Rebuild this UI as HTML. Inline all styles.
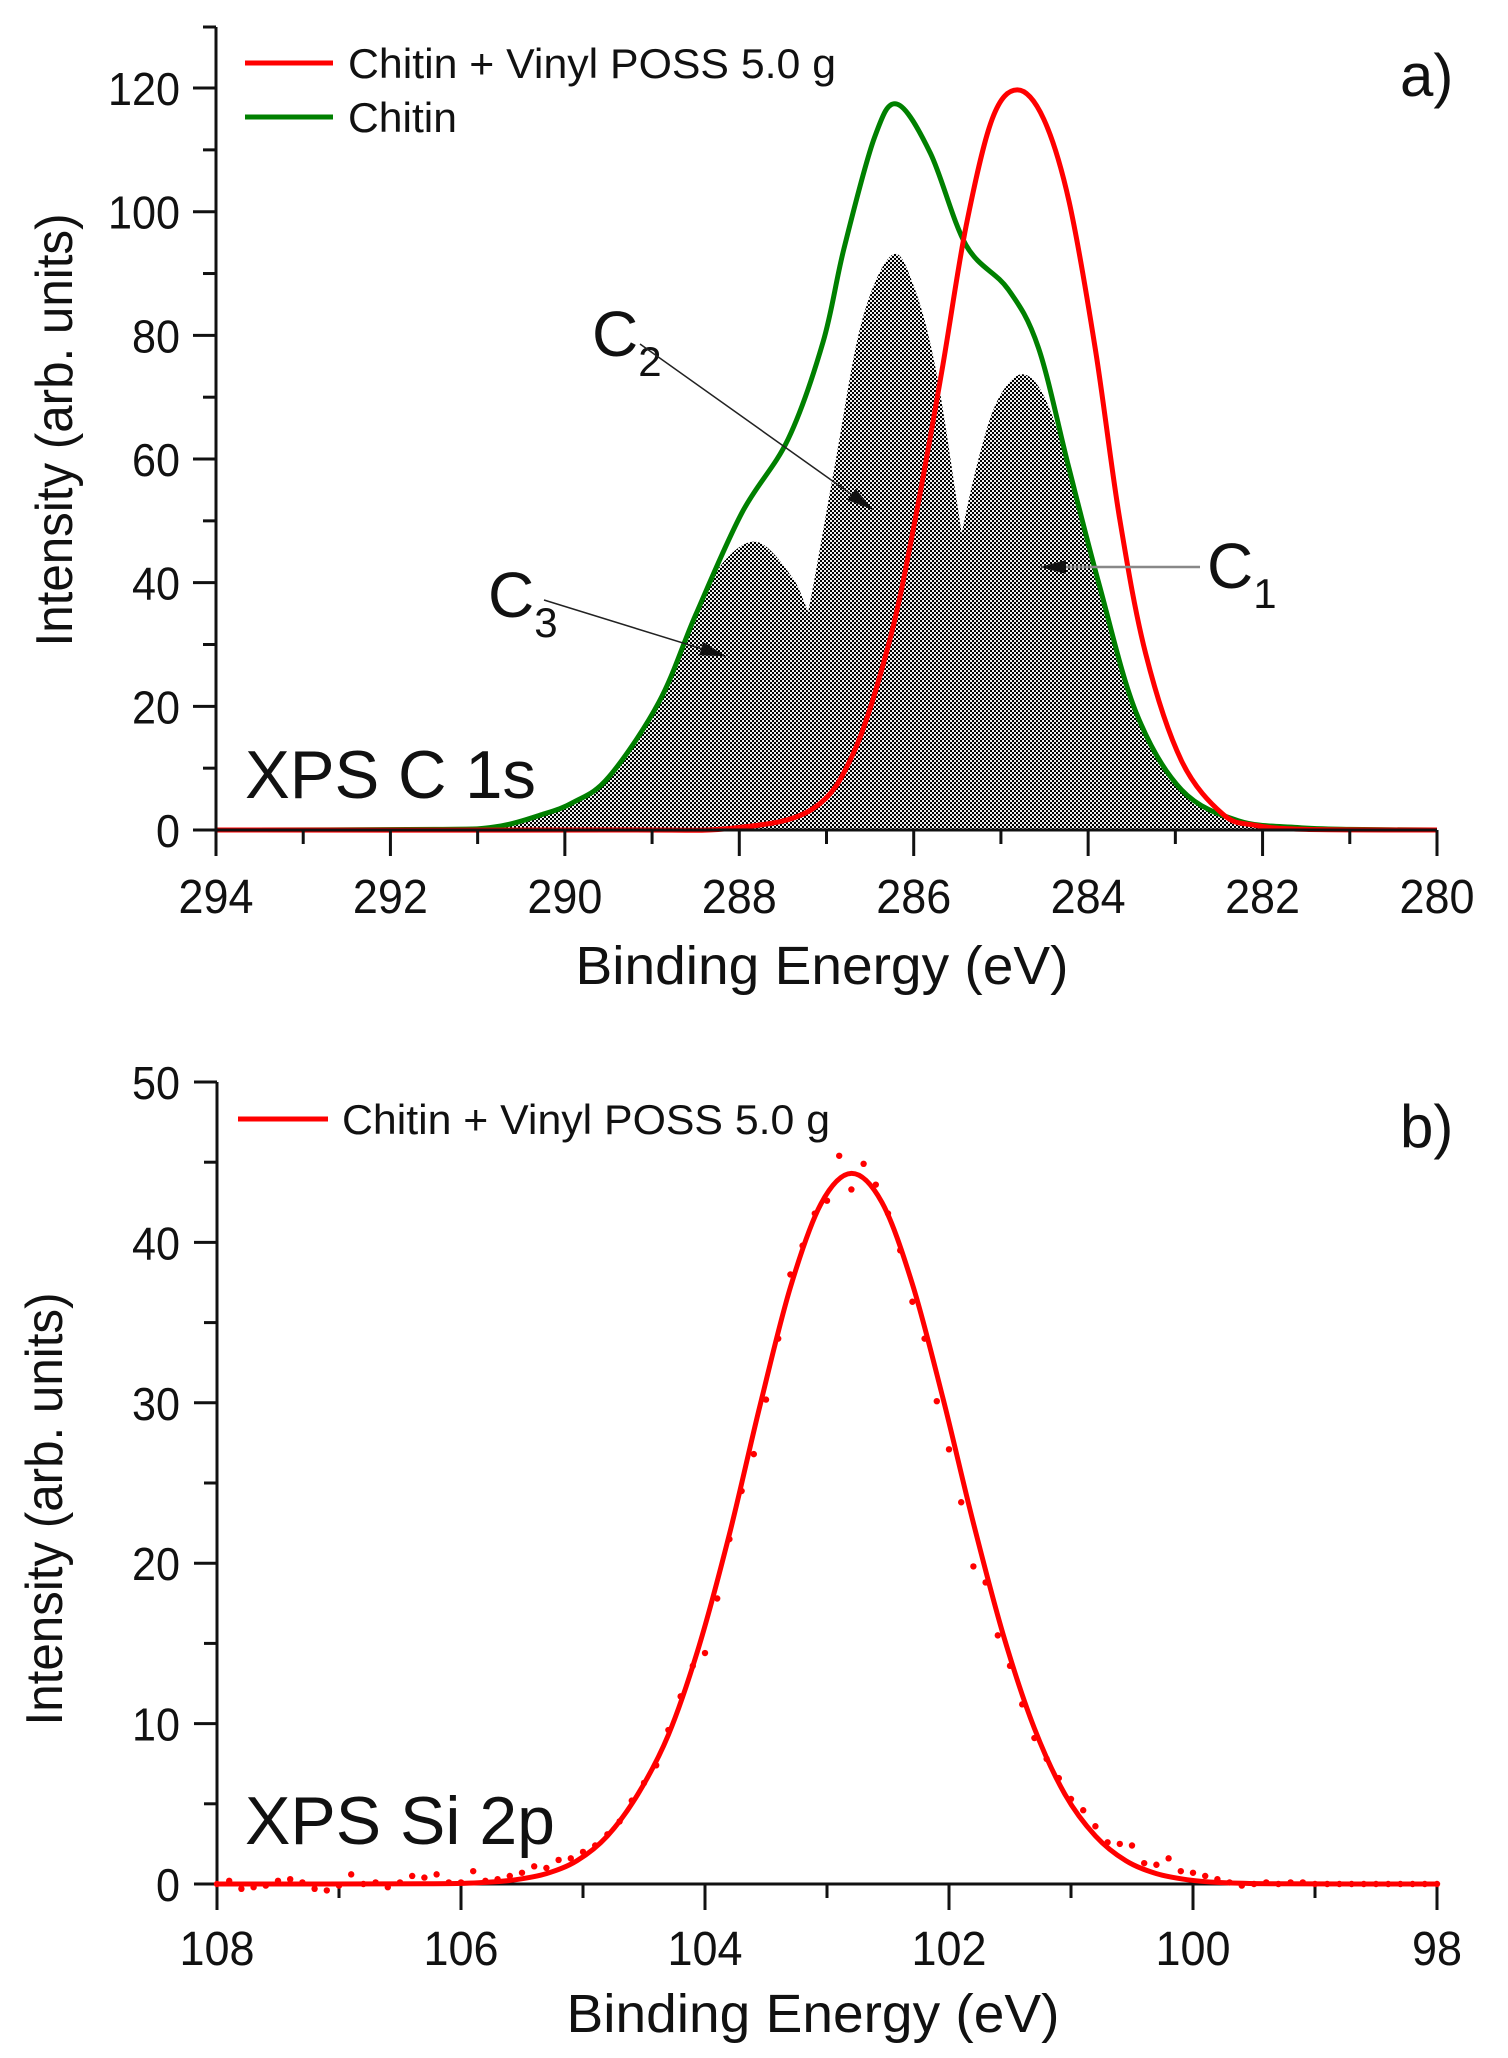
<!DOCTYPE html>
<html><head><meta charset="utf-8"><style>
html,body{margin:0;padding:0;background:#fff;}
body{position:relative;width:1508px;height:2058px;overflow:hidden;}
svg{display:block;}
text{font-family:"Liberation Sans",sans-serif;fill:#111;}
</style></head><body>
<svg id="fig" width="1508" height="2058" viewBox="0 0 1508 2058" xmlns="http://www.w3.org/2000/svg">
<defs>
<pattern id="checker" width="4" height="4" patternUnits="userSpaceOnUse">
<rect width="4" height="4" fill="#eee"/>
<rect width="2" height="2" fill="#000"/><rect x="2" y="2" width="2" height="2" fill="#000"/>
</pattern>
</defs>
<g id="panelA"></g>
<g id="panelB"></g>
</svg>
<script>
// ---------- Panel a data (C 1s) ----------
const aGreenX = [294,291.5,290.8,290.26,289.9,289.5,288.92,288.5,287.97,287.44,287.04,286.8,286.45,286.19,285.81,285.4,284.92,284.57,284.22,283.87,283.45,282.93,282.28,281.6,281,280];
const aGreenY = [0,0.1,0.5,2.5,4.5,8.5,20.7,34.8,51.3,63.2,78.9,94,112,117.4,109.5,94.6,87.5,78,58.5,39.5,19,6.5,1.5,0.4,0.1,0];
const aRedX = [294,289.5,288.07,287.16,286.68,286.27,285.98,285.68,285.4,285.1,284.81,284.51,284.22,283.92,283.64,283.34,282.93,282.46,282.1,281.5,280];
const aRedY = [0,0,0.3,3.4,12.8,31,50.5,74,97.6,115,119.7,115,101.7,78,50.5,28.5,11.2,2.6,0.8,0.1,0];
const c3X = [290.8,290.26,289.9,289.5,289.2,288.92,288.5,288.2,287.8,287.4,287.2,286.8,286.4,286.0,285.6];
const c3Y = [0.3,2.5,4.5,8.5,14,20.7,34.8,43,46.6,41,35,22,10,3,0.5];
const c2X = [288.3,288.0,287.7,287.4,287.2,286.91,286.6,286.25,286.0,285.74,285.45,285.2,285.0,284.7,284.4];
const c2Y = [0.5,3,10,24,36,58.5,82,93,88,74,48,25,12,3,0.5];
const c1X = [287.0,286.6,286.2,285.8,285.45,285.2,285.0,284.75,284.5,284.22,283.87,283.45,282.93,282.5,282.0,281.5];
const c1Y = [0.3,1,6,22,48,63,70.5,73.7,70,58.5,39.5,19,6.5,2.5,0.5,0];
const aXTicks = [294,292,290,288,286,284,282,280];
const aYTicks = [0,20,40,60,80,100,120];

// ---------- Panel b data (Si 2p) ----------
const bFitX = [108,106.3,105.8,105.55,105.3,105.05,104.8,104.55,104.3,104.05,103.8,103.55,103.3,103.05,102.8,102.55,102.3,102.05,101.8,101.55,101.3,101.05,100.8,100.55,100.3,100.05,99.8,99.3,98];
const bFitY = [0,0.01,0.1,0.27,0.65,1.45,3.0,5.6,9.3,14.8,21.8,29.8,37.2,42.4,44.3,42.5,37.4,30.3,22.5,15.4,9.7,5.6,3.0,1.45,0.65,0.27,0.1,0.01,0];
const bDataY = [0,0.2,-0.3,-0.2,-0.1,0.2,0.3,0.1,-0.3,-0.4,-0.1,0.6,0,0.1,-0.2,0.1,0.5,0.4,0.6,0.1,0.1,0.8,0.2,0.3,0.5,0.7,1.1,1.0,1.5,1.6,2.0,2.4,3.1,3.9,5.2,6.3,7.4,9.6,11.7,13.6,14.4,17.8,21.5,24.5,26.8,30.2,34.0,38.0,39.8,41.8,42.6,45.4,43.3,44.9,43.6,41.8,39.5,36.3,34.0,30.1,27.1,23.8,19.8,18.8,15.5,13.6,11.2,9.1,7.8,6.6,5.3,4.6,3.6,2.6,2.5,2.4,1.3,1.2,1.6,0.8,0.7,0.5,0.3,0.1,-0.1,0,0.1,0,0.1,0.1,0,0,0,0,0,0,0,0,0,0,0];
const bDataXStart = 108, bDataXStep = -0.1;
const bXTicks = [108,106,104,102,100,98];
const bYTicks = [0,10,20,30,40,50];

const NS = "http://www.w3.org/2000/svg";
function mk(parent, tag, attrs, txt){
  const e = document.createElementNS(NS, tag);
  for (const k in attrs) e.setAttribute(k, attrs[k]);
  if (txt !== undefined) e.textContent = txt;
  parent.appendChild(e);
  return e;
}
function smoothPath(pts){
  let d = "M" + pts[0][0].toFixed(1) + "," + pts[0][1].toFixed(1);
  for (let i = 0; i < pts.length - 1; i++){
    const p0 = pts[Math.max(0,i-1)], p1 = pts[i], p2 = pts[i+1], p3 = pts[Math.min(pts.length-1,i+2)];
    const c1x = p1[0] + (p2[0]-p0[0])/6, c1y = p1[1] + (p2[1]-p0[1])/6;
    const c2x = p2[0] - (p3[0]-p1[0])/6, c2y = p2[1] - (p3[1]-p1[1])/6;
    d += " C" + c1x.toFixed(1)+","+c1y.toFixed(1)+" "+c2x.toFixed(1)+","+c2y.toFixed(1)+" "+p2[0].toFixed(1)+","+p2[1].toFixed(1);
  }
  return d;
}

// ---------- Panel a ----------
const gA = document.getElementById('panelA');
const axA = {x0:216, x1:1437, v0:294, v1:280, yBase:830, yPer:6.183, yTop:27};
function ax(v){ return axA.x0 + (axA.v0 - v) * (axA.x1 - axA.x0) / (axA.v0 - axA.v1); }
function ay(v){ return axA.yBase - v * axA.yPer; }

[[c3X,c3Y,'component-c3'],[c2X,c2Y,'component-c2'],[c1X,c1Y,'component-c1']].forEach(function(c){
  const pts = c[0].map(function(x,i){ return [ax(x), ay(c[1][i])]; });
  const d = smoothPath(pts) + " L" + ax(c[0][c[0].length-1]).toFixed(1) + "," + ay(0) + " L" + ax(c[0][0]).toFixed(1) + "," + ay(0) + " Z";
  const p = mk(gA, 'path', {d:d, fill:'url(#checker)', stroke:'none'});
  
  
});
const greenPath = mk(gA, 'path', {d: smoothPath(aGreenX.map(function(x,i){return [ax(x), ay(aGreenY[i])];})), fill:'none', stroke:'#008000', 'stroke-width':5});


const redPath = mk(gA, 'path', {d: smoothPath(aRedX.map(function(x,i){return [ax(x), ay(aRedY[i])];})), fill:'none', stroke:'#ff0000', 'stroke-width':5});



const aAxes = mk(gA, 'g', {});


mk(aAxes, 'line', {x1:axA.x0, y1:axA.yTop, x2:axA.x0, y2:axA.yBase, stroke:'#111', 'stroke-width':3});
mk(aAxes, 'line', {x1:axA.x0, y1:axA.yBase, x2:axA.x1, y2:axA.yBase, stroke:'#111', 'stroke-width':3});
mk(aAxes, 'line', {x1:axA.x0-13, y1:axA.yTop, x2:axA.x0, y2:axA.yTop, stroke:'#111', 'stroke-width':3});
for (let v = 294; v >= 280; v--){
  const major = (v % 2 === 0);
  mk(aAxes, 'line', {x1:ax(v), y1:axA.yBase, x2:ax(v), y2:axA.yBase + (major?26:14), stroke:'#111', 'stroke-width':3});
}
for (let v = 0; v <= 120; v += 10){
  const major = (v % 20 === 0);
  mk(aAxes, 'line', {x1:axA.x0 - (major?23:13), y1:ay(v), x2:axA.x0, y2:ay(v), stroke:'#111', 'stroke-width':3});
}
aXTicks.forEach(function(v){
  const t = mk(aAxes, 'text', {x:ax(v), y:913, 'text-anchor':'middle', 'font-size':48, textLength:75, lengthAdjust:'spacingAndGlyphs'}, String(v));
  
  
});
aYTicks.forEach(function(v){
  const s = String(v);
  const t = mk(aAxes, 'text', {x:180, y:ay(v)+17, 'text-anchor':'end', 'font-size':46, textLength:24*s.length, lengthAdjust:'spacingAndGlyphs'}, s);
  
  
});

// ---------- Panel b ----------
const gB = document.getElementById('panelB');
const axB = {x0:217, x1:1437, v0:108, v1:98, yBase:1884, yPer:16.04, yTop:1082};
function bx(v){ return axB.x0 + (axB.v0 - v) * (axB.x1 - axB.x0) / (axB.v0 - axB.v1); }
function by(v){ return axB.yBase - v * axB.yPer; }

const bAxes = mk(gB, 'g', {});


mk(bAxes, 'line', {x1:axB.x0, y1:axB.yTop, x2:axB.x0, y2:axB.yBase, stroke:'#111', 'stroke-width':3});
mk(bAxes, 'line', {x1:axB.x0, y1:axB.yBase, x2:axB.x1, y2:axB.yBase, stroke:'#111', 'stroke-width':3});
for (let v = 108; v >= 98; v--){
  const major = (v % 2 === 0);
  mk(bAxes, 'line', {x1:bx(v), y1:axB.yBase, x2:bx(v), y2:axB.yBase + (major?26:14), stroke:'#111', 'stroke-width':3});
}
for (let v = 0; v <= 50; v += 5){
  const major = (v % 10 === 0);
  mk(bAxes, 'line', {x1:axB.x0 - (major?23:13), y1:by(v), x2:axB.x0, y2:by(v), stroke:'#111', 'stroke-width':3});
}
bXTicks.forEach(function(v){
  const s = String(v);
  const t = mk(bAxes, 'text', {x:bx(v), y:1965, 'text-anchor':'middle', 'font-size':48, textLength:25*s.length, lengthAdjust:'spacingAndGlyphs'}, s);
  
  
});
bYTicks.forEach(function(v){
  const s = String(v);
  const t = mk(bAxes, 'text', {x:180, y:by(v)+17, 'text-anchor':'end', 'font-size':46, textLength:24*s.length, lengthAdjust:'spacingAndGlyphs'}, s);
  
  
});

const dots = mk(gB, 'g', {fill:'#ff0000'});


bDataY.forEach(function(v,i){
  const xv = bDataXStart + i * bDataXStep;
  const c = mk(dots, 'circle', {cx:bx(xv), cy:by(v), r:3.2});
  
  
});
const fitPath = mk(gB, 'path', {d: smoothPath(bFitX.map(function(x,i){return [bx(x), by(bFitY[i])];})), fill:'none', stroke:'#ff0000', 'stroke-width':5});


</script>

<svg style="position:absolute;left:0;top:0" width="1508" height="2058" viewBox="0 0 1508 2058" xmlns="http://www.w3.org/2000/svg">
<defs>
<marker id="arrowhead" markerWidth="26" markerHeight="14" refX="25" refY="7" orient="auto" markerUnits="userSpaceOnUse" viewBox="0 0 26 14">
<path d="M0,0 L26,7 L0,14 z" fill="#111"/>
</marker>
</defs>
<g>
<line x1="245" y1="63" x2="333" y2="63" stroke="#ff0000" stroke-width="5"/>
<text x="348" y="78" font-size="42" textLength="488" lengthAdjust="spacingAndGlyphs">Chitin + Vinyl POSS 5.0 g</text>
<line x1="245" y1="117" x2="333" y2="117" stroke="#008000" stroke-width="5"/>
<text x="348" y="132" font-size="42" textLength="109" lengthAdjust="spacingAndGlyphs">Chitin</text>
</g>
<text x="1400" y="96" font-size="60">a)</text>
<text x="245" y="798" font-size="68" textLength="291" lengthAdjust="spacingAndGlyphs">XPS C 1s</text>
<text x="822" y="984" font-size="54" text-anchor="middle" textLength="493" lengthAdjust="spacingAndGlyphs">Binding Energy (eV)</text>
<text transform="translate(72,430) rotate(-90)" font-size="52" text-anchor="middle" textLength="433" lengthAdjust="spacingAndGlyphs">Intensity (arb. units)</text>

<g>
<text x="592" y="356" font-size="64">C<tspan font-size="42" dy="20">2</tspan></text>
<line x1="640" y1="344" x2="872" y2="509" stroke="#222" stroke-width="1.5" marker-end="url(#arrowhead)"/>
</g>
<g>
<text x="488" y="617" font-size="64">C<tspan font-size="42" dy="20">3</tspan></text>
<line x1="544" y1="600" x2="725" y2="656" stroke="#222" stroke-width="1.5" marker-end="url(#arrowhead)"/>
</g>
<g>
<text x="1207" y="588" font-size="64">C<tspan font-size="42" dy="20">1</tspan></text>
<line x1="1200" y1="567" x2="1041" y2="567" stroke="#888" stroke-width="2.5" marker-end="url(#arrowhead)"/>
</g>

<g>
<line x1="238" y1="1119" x2="328" y2="1119" stroke="#ff0000" stroke-width="5"/>
<text x="342" y="1134" font-size="42" textLength="488" lengthAdjust="spacingAndGlyphs">Chitin + Vinyl POSS 5.0 g</text>
</g>
<text x="1400" y="1147" font-size="60">b)</text>
<text x="245" y="1844" font-size="68" textLength="310" lengthAdjust="spacingAndGlyphs">XPS Si 2p</text>
<text x="813" y="2032" font-size="54" text-anchor="middle" textLength="493" lengthAdjust="spacingAndGlyphs">Binding Energy (eV)</text>
<text transform="translate(62,1509) rotate(-90)" font-size="52" text-anchor="middle" textLength="433" lengthAdjust="spacingAndGlyphs">Intensity (arb. units)</text>
</svg>
</body></html>
